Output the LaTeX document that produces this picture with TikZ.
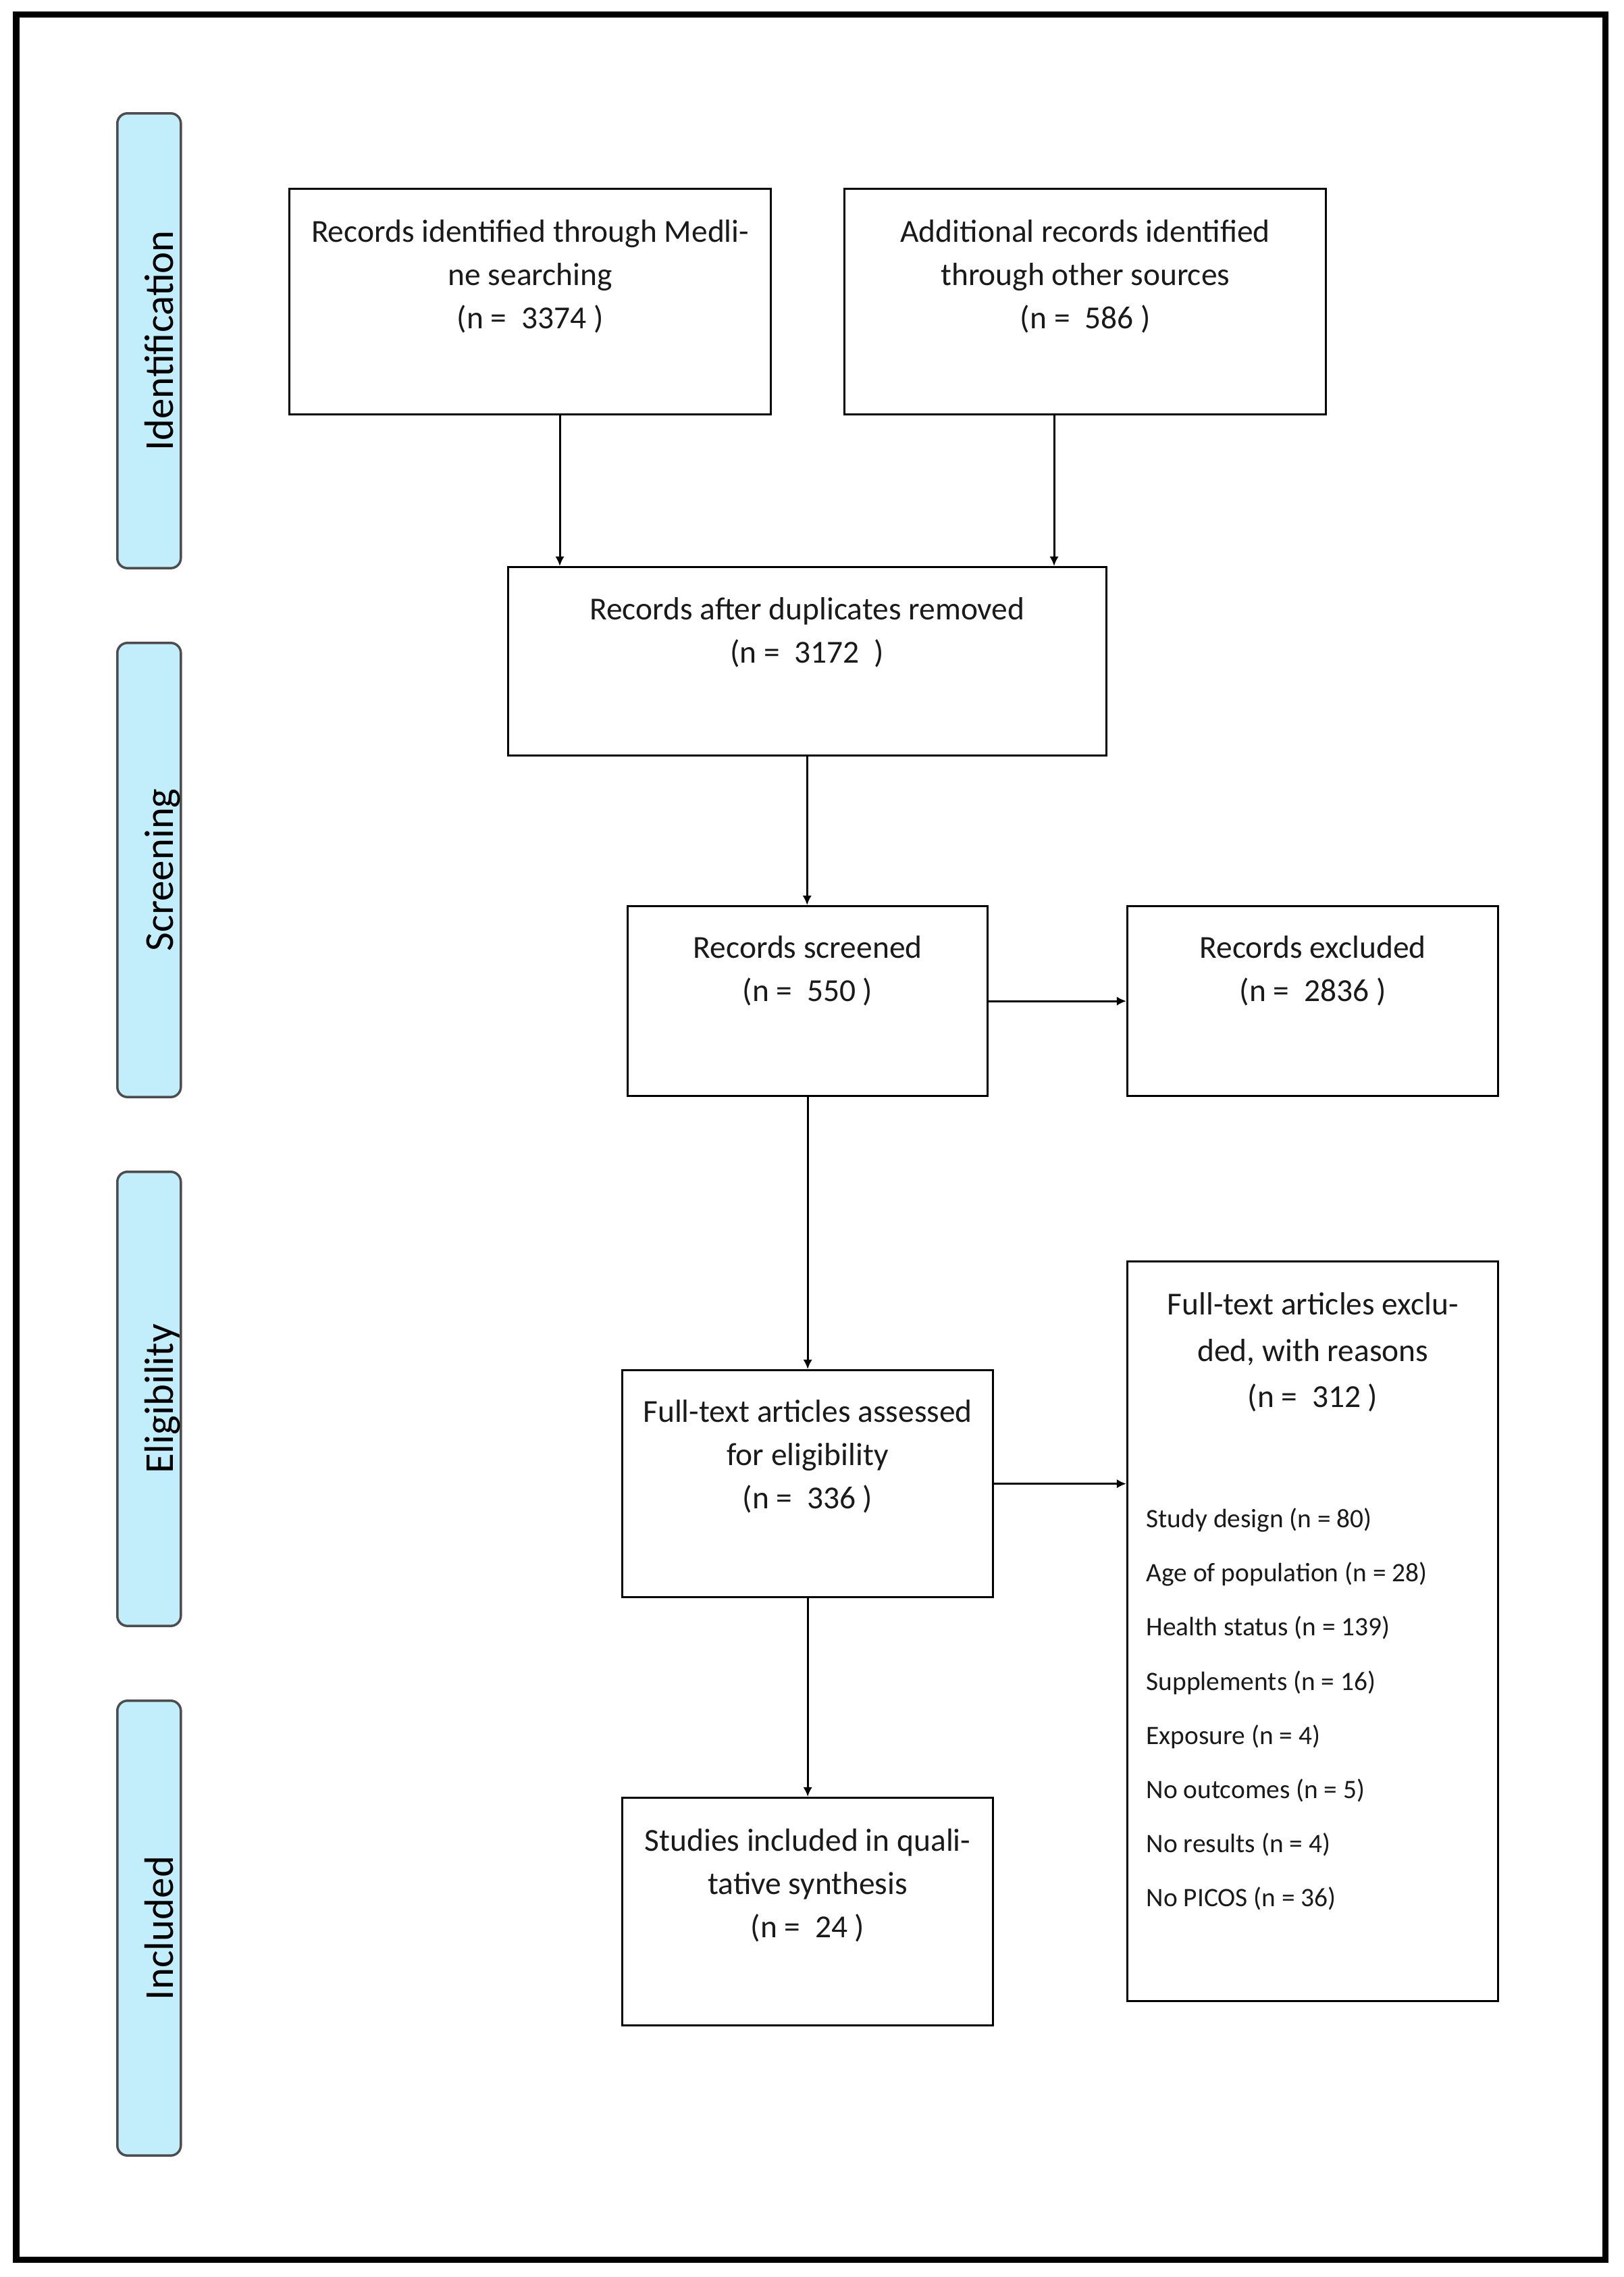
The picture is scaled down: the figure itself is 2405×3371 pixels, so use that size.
\documentclass[tikz,border=0pt]{standalone}
\usepackage{fontspec}
\setmainfont{Carlito}
\usetikzlibrary{arrows.meta}
\definecolor{barfill}{HTML}{C2EEFC}
\definecolor{barline}{HTML}{4D4D4D}
\definecolor{ink}{HTML}{1A1A1A}
\tikzset{
  box/.style={draw=black, line width=0.85pt, fill=white, rectangle, anchor=north west, inner sep=0pt},
  boxtext/.style={anchor=north, align=center, inner sep=0pt, text=ink, font=\fontsize{13.5}{18.2}\selectfont},
  itemtext/.style={anchor=north west, align=left, inner sep=0pt, text=ink, font=\fontsize{11.2}{22.8}\selectfont},
  phase/.style={draw=barline, line width=1pt, fill=barfill, rounded corners=0.15cm, rectangle, anchor=north west, minimum width=0.94cm, inner sep=0pt},
  phasetext/.style={rotate=90, anchor=base, yshift=-0.355cm, inner sep=0pt, text=black, font=\fontsize{17.3}{20}\selectfont},
  arr/.style={draw=black, line width=0.85pt, -{Latex[length=4pt,width=3.8pt]}}
}
\begin{document}
\begin{tikzpicture}[x=0.01cm, y=-0.01cm]
\useasboundingbox (0,0) rectangle (2405,3371);
\draw[line width=0.09cm] (24,21) rectangle (2377,3345);

% phase bars
\node[phase, minimum height=6.73cm] (p1) at (172,166) {};
\node[phase, minimum height=6.72cm] (p2) at (172,950) {};
\node[phase, minimum height=6.72cm] (p3) at (172,1733) {};
\node[phase, minimum height=6.73cm] (p4) at (172,2516) {};
\node[phasetext] (p1t) at (p1.center) {Identification};
\node[phasetext] (p2t) at (p2.center) {Screening};
\node[phasetext] (p3t) at (p3.center) {Eligibility};
\node[phasetext] (p4t) at (p4.center) {Included};

% boxes
\node[box, minimum width=7.13cm, minimum height=3.34cm] (b1) at (427,278) {};
\node[box, minimum width=7.13cm, minimum height=3.34cm] (b2) at (1249,278) {};
\node[box, minimum width=8.85cm, minimum height=2.79cm] (b3) at (751,838) {};
\node[box, minimum width=5.33cm, minimum height=2.81cm] (b4) at (928,1340) {};
\node[box, minimum width=5.49cm, minimum height=2.81cm] (b5) at (1668,1340) {};
\node[box, minimum width=5.49cm, minimum height=3.36cm] (b6) at (920,2027) {};
\node[box, minimum width=5.49cm, minimum height=10.94cm] (b7) at (1668,1866) {};
\node[box, minimum width=5.49cm, minimum height=3.37cm] (b8) at (920,2660) {};

% box texts
\node[boxtext, yshift=-0.47cm] (t1) at (b1.north) {Records identified through Medli-\\ne searching\\(n =\ \ 3374 )};
\node[boxtext, yshift=-0.47cm] (t2) at (b2.north) {Additional records identified\\through other sources\\(n =\ \ 586 )};
\node[boxtext, yshift=-0.46cm] (t3) at (b3.north) {Records after duplicates removed\\(n =\ \ 3172\ \ )};
\node[boxtext, yshift=-0.45cm] (t4) at (b4.north) {Records screened\\(n =\ \ 550 )};
\node[boxtext, yshift=-0.45cm] (t5) at (b5.north) {Records excluded\\(n =\ \ 2836 )};
\node[boxtext, yshift=-0.45cm] (t6) at (b6.north) {Full-text articles assessed\\for eligibility\\(n =\ \ 336 )};
\node[boxtext, yshift=-0.47cm, font=\fontsize{13.5}{19.5}\selectfont] (t7) at (b7.north) {Full-text articles exclu-\\ded, with reasons\\(n =\ \ 312 )};
\node[boxtext, yshift=-0.47cm] (t8) at (b8.north) {Studies included in quali-\\tative synthesis\\(n =\ \ 24 )};
\node[itemtext] (t7b) at (1697,2232) {Study design (n = 80)\\Age of population (n = 28)\\Health status (n = 139)\\Supplements (n = 16)\\Exposure (n = 4)\\No outcomes (n = 5)\\No results (n = 4)\\No PICOS (n = 36)};

% connectors
\coordinate (c1) at (829,0);
\coordinate (c2) at (1561,0);
\draw[arr] (b1.south -| c1) -- (b3.north -| c1);
\draw[arr] (b2.south -| c2) -- (b3.north -| c2);
\draw[arr] (b3.south) -- (b3.south |- b4.north);
\draw[arr] (b4.south) -- (b4.south |- b6.north);
\draw[arr] (b6.south) -- (b6.south |- b8.north);
\draw[arr] (b4.east) -- (b4.east -| b5.west);
\draw[arr] (b6.east) -- (b6.east -| b7.west);
\end{tikzpicture}
\end{document}
